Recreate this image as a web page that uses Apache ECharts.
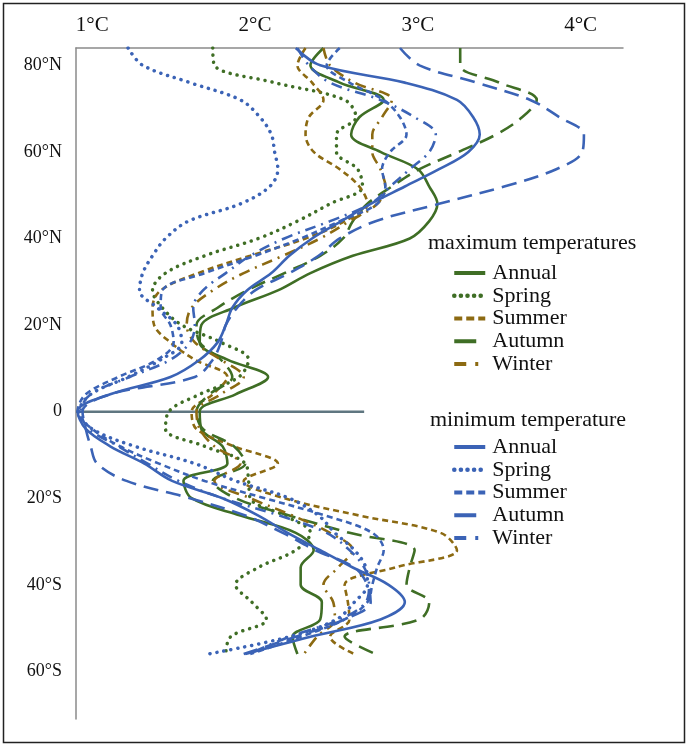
<!DOCTYPE html>
<html>
<head>
<meta charset="utf-8">
<style>
  html, body { margin: 0; padding: 0; background: #fff; }
  #chart { width: 688px; height: 747px; }
</style>
<script src="https://cdn.jsdelivr.net/npm/echarts@6/dist/echarts.min.js"></script>
</head>
<body>
<div id="chart"></div>
<script>
// latitudes (degrees, south negative)
const lats = [84, 80, 76, 72, 68, 64, 60, 56, 52, 48, 44, 40, 36, 32, 28, 24, 20, 16, 12, 8, 4, 0,
  -4, -8, -12, -16, -20, -24, -28, -32, -36, -40, -44, -48, -52, -56]

// maximum temperatures (°C)
const maxAnnual = [2.42, 2.34, 2.52, 2.79, 2.64, 2.59, 2.77, 3.00, 3.07, 3.12, 3.07, 2.95, 2.60, 2.34, 2.14, 1.87, 1.67, 1.66,
  1.83, 2.08, 1.88, 1.66, 1.67, 1.80, 1.83, 1.56, 1.61, 1.91, 2.25, 2.36, 2.28, 2.28, 2.41, 2.40, 2.23, 2.26]
const maxSpring = [1.74, 1.75, 2.12, 2.55, 2.62, 2.50, 2.50, 2.63, 2.66, 2.46, 2.26, 2.02, 1.69, 1.45, 1.37, 1.43, 1.55, 1.79,
  1.96, 1.90, 1.66, 1.47, 1.45, 1.69, 1.94, 1.96, 1.97, 2.18, 2.34, 2.25, 2.02, 1.88, 1.98, 2.07, 1.85, 1.82]
const maxSummer = [2.31, 2.26, 2.35, 2.42, 2.33, 2.31, 2.36, 2.52, 2.64, 2.69, 2.55, 2.31, 1.97, 1.65, 1.42, 1.37, 1.38, 1.48,
  1.63, 1.83, 1.74, 1.61, 1.64, 1.87, 2.14, 1.93, 2.18, 2.64, 3.14, 3.24, 2.86, 2.55, 2.57, 2.58, 2.46, 2.61]
const maxAutumn = [3.26, 3.26, 3.50, 3.73, 3.64, 3.48, 3.25, 3.01, 2.84, 2.69, 2.60, 2.54, 2.40, 2.18, 1.95, 1.77, 1.64, 1.66,
  1.79, 1.86, 1.72, 1.64, 1.68, 1.87, 1.94, 1.74, 1.88, 2.21, 2.58, 2.98, 2.95, 2.93, 3.07, 3.01, 2.55, 2.74]
const maxWinter = [2.42, 2.46, 2.61, 2.84, 2.78, 2.72, 2.72, 2.77, 2.80, 2.75, 2.58, 2.40, 2.17, 1.93, 1.74, 1.61, 1.58, 1.63,
  1.79, 1.93, 1.79, 1.64, 1.66, 1.75, 1.91, 1.75, 1.97, 2.23, 2.46, 2.60, 2.51, 2.42, 2.48, 2.49, 2.38, 2.30]

// minimum temperatures (°C)
const minAnnual = [2.25, 2.40, 2.92, 3.24, 3.34, 3.38, 3.31, 3.13, 2.92, 2.71, 2.53, 2.35, 2.21, 2.10, 1.95, 1.86, 1.82, 1.77,
  1.66, 1.48, 1.11, 0.91, 0.96, 1.11, 1.32, 1.49, 1.80, 2.02, 2.20, 2.40, 2.60, 2.82, 2.92, 2.77, 2.34, 1.94]
const minSpring = [1.22, 1.31, 1.60, 1.91, 2.03, 2.10, 2.12, 2.14, 2.09, 1.91, 1.59, 1.45, 1.37, 1.31, 1.29, 1.40, 1.52, 1.55,
  1.42, 1.22, 0.99, 0.92, 1.00, 1.26, 1.63, 1.88, 2.21, 2.39, 2.49, 2.61, 2.68, 2.69, 2.61, 2.50, 2.21, 1.71]
const minSummer = [2.52, 2.44, 2.58, 2.79, 2.89, 2.93, 2.83, 2.78, 2.80, 2.75, 2.52, 2.28, 2.00, 1.69, 1.43, 1.42, 1.48, 1.50,
  1.40, 1.16, 0.96, 0.91, 1.00, 1.17, 1.41, 1.69, 2.06, 2.43, 2.72, 2.79, 2.75, 2.72, 2.69, 2.55, 2.28, 1.97]
const minAutumn = [2.89, 3.01, 3.36, 3.69, 3.87, 4.02, 4.01, 3.85, 3.53, 3.13, 2.74, 2.52, 2.39, 2.21, 2.00, 1.89, 1.82, 1.79,
  1.74, 1.63, 1.11, 0.94, 0.96, 0.99, 1.03, 1.21, 1.60, 1.94, 2.17, 2.37, 2.61, 2.69, 2.71, 2.55, 2.25, 1.93]
const minWinter = [2.26, 2.33, 2.46, 2.77, 2.98, 3.11, 3.07, 2.95, 2.83, 2.71, 2.46, 2.18, 1.97, 1.82, 1.68, 1.62, 1.63, 1.60,
  1.48, 1.23, 0.99, 0.93, 0.98, 1.16, 1.34, 1.53, 1.80, 2.15, 2.44, 2.58, 2.67, 2.70, 2.68, 2.52, 2.21, 1.96]

// axis labels
const tempTicks = [1, 2, 3, 4]
const latTicks = [80, 60, 40, 20, 0, -20, -40, -60]
const equatorLine = [[0.9, 0], [2.67, 0]]

const seasons = ['Annual', 'Spring', 'Summer', 'Autumn', 'Winter']

const GREEN = '#3f6e25'
const OLIVE = '#8c6a12'
const BLUE = '#3b63b6'
const FONT = 'Liberation Serif'

// line dash per season
const dashes = {
  Annual: 'solid',
  Spring: [0.1, 7],
  Summer: [6, 4],
  Autumn: [15, 8],
  Winter: [11, 6, 2, 6]
}
// shorter patterns for the legend keys
const keyDashes = {
  Annual: 'solid',
  Spring: [0.1, 6.5],
  Summer: [8, 4],
  Autumn: [22, 30],
  Winter: [12, 9, 3, 30]
}

function pairs(vals) {
  return vals.map((v, i) => [v, lats[i]])
}

function makeSeries(name, vals, color) {
  return {
    name: name,
    type: 'line',
    data: pairs(vals),
    smooth: 0.35,
    symbol: 'none',
    silent: true,
    z: 3,
    lineStyle: {
      color: color,
      width: name === 'Spring' ? 3.5 : 2.6,
      type: dashes[name],
      cap: name === 'Spring' ? 'round' : 'butt'
    },
    itemStyle: { color: color }
  }
}

const maxData = [maxAnnual, maxSpring, maxSummer, maxAutumn, maxWinter]
const minData = [minAnnual, minSpring, minSummer, minAutumn, minWinter]
const maxColors = [GREEN, GREEN, OLIVE, GREEN, OLIVE]

let series = []
seasons.forEach((s, i) => series.push(makeSeries(s, maxData[i], maxColors[i])))
seasons.forEach((s, i) => series.push(makeSeries(s, minData[i], BLUE)))
series.push({
  type: 'line',
  name: 'equator',
  data: equatorLine,
  symbol: 'none',
  silent: true,
  z: 2,
  lineStyle: { color: '#5f7680', width: 2.5 }
})

function legendFor(top, colors) {
  return {
    orient: 'vertical',
    left: 452,
    top: top,
    padding: 0,
    itemWidth: 31,
    itemHeight: 14,
    itemGap: 0.75,
    selectedMode: false,
    data: seasons.map((s, i) => ({
      name: s,
      itemStyle: { opacity: 0 },
      lineStyle: { color: colors[i], type: keyDashes[s], width: s === 'Spring' ? 4.5 : 4, cap: s === 'Spring' ? 'round' : 'butt' }
    })),
    textStyle: { fontFamily: FONT, fontSize: 22, lineHeight: 20, color: '#111', padding: [0, 0, 0, 2] }
  }
}

const chart = echarts.init(document.getElementById('chart'))
chart.setOption({
  backgroundColor: '#fff',
  animation: false,
  grid: { left: 76, right: 65, top: 48, bottom: 28 },
  xAxis: {
    type: 'value',
    position: 'top',
    min: 0.9,
    max: 4.26,
    splitLine: { show: false },
    axisTick: { show: false },
    axisLine: { show: true, onZero: false, lineStyle: { color: '#8a8a8a', width: 1.5 } },
    axisLabel: {
      customValues: tempTicks,
      formatter: v => v + '°C',
      fontFamily: FONT,
      fontSize: 21,
      color: '#111',
      margin: 12
    }
  },
  yAxis: {
    type: 'value',
    min: -71,
    max: 84,
    splitLine: { show: false },
    axisTick: { show: false },
    axisLine: { show: true, onZero: false, lineStyle: { color: '#8a8a8a', width: 1.5 } },
    axisLabel: {
      customValues: latTicks,
      formatter: v => v === 0 ? '0' : Math.abs(v) + '°' + (v > 0 ? 'N' : 'S'),
      fontFamily: FONT,
      fontSize: 18,
      color: '#111',
      margin: 14
    }
  },
  legend: [
    legendFor(262, maxColors),
    legendFor(436, [BLUE, BLUE, BLUE, BLUE, BLUE])
  ],
  graphic: [
    {
      type: 'rect',
      shape: { x: 3.5, y: 3.5, width: 681, height: 739 },
      style: { fill: null, stroke: '#222', lineWidth: 1.5 },
      silent: true
    },
    {
      type: 'text',
      left: 428,
      top: 232,
      style: { text: 'maximum temperatures', font: '22px "Liberation Serif"', fill: '#111' }
    },
    {
      type: 'text',
      left: 430,
      top: 409,
      style: { text: 'minimum temperature', font: '22px "Liberation Serif"', fill: '#111' }
    }
  ],
  series: series
})
</script>
</body>
</html>
